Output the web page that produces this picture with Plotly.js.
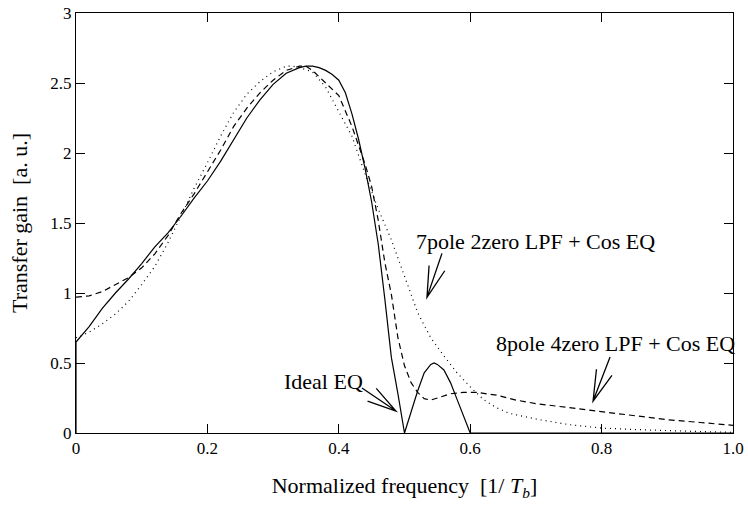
<!DOCTYPE html>
<html>
<head>
<meta charset="utf-8">
<script src="https://cdn.plot.ly/plotly-3.0.1.min.js"></script>
<style>
  html, body { margin: 0; padding: 0; background: #fff; }
  #chart { width: 748px; height: 506px; }
</style>
</head>
<body>
<div id="chart"></div>
<script>
// Ideal equalizer response
const idealX = [0, 0, 0.02, 0.04, 0.06, 0.08, 0.10, 0.12, 0.14, 0.16, 0.18, 0.20, 0.22, 0.24, 0.26, 0.28, 0.30, 0.32, 0.34, 0.35, 0.36, 0.37, 0.38, 0.39, 0.40, 0.41, 0.42, 0.43, 0.44, 0.45, 0.46, 0.47, 0.48, 0.49, 0.50, 0.51, 0.52, 0.53, 0.54, 0.545, 0.55, 0.56, 0.57, 0.58, 0.59, 0.60, 0.80, 1.0];
const idealY = [0, 0.65, 0.76, 0.89, 1.00, 1.10, 1.21, 1.33, 1.43, 1.55, 1.68, 1.80, 1.94, 2.10, 2.25, 2.38, 2.49, 2.57, 2.61, 2.62, 2.62, 2.61, 2.59, 2.56, 2.52, 2.43, 2.28, 2.10, 1.89, 1.65, 1.35, 0.96, 0.54, 0.28, 0.0, 0.15, 0.30, 0.43, 0.49, 0.50, 0.49, 0.45, 0.36, 0.24, 0.12, 0.0, 0.0, 0.0];

// 8pole 4zero LPF + Cos EQ
const lpf8X = [0, 0.02, 0.04, 0.06, 0.08, 0.10, 0.12, 0.14, 0.16, 0.18, 0.20, 0.22, 0.24, 0.26, 0.28, 0.30, 0.32, 0.34, 0.35, 0.36, 0.38, 0.40, 0.42, 0.44, 0.45, 0.46, 0.47, 0.48, 0.49, 0.50, 0.51, 0.52, 0.53, 0.54, 0.55, 0.57, 0.59, 0.61, 0.64, 0.67, 0.70, 0.75, 0.80, 0.85, 0.90, 0.95, 1.0];
const lpf8Y = [0.97, 0.98, 1.01, 1.06, 1.11, 1.18, 1.28, 1.41, 1.57, 1.71, 1.86, 2.02, 2.19, 2.32, 2.43, 2.52, 2.59, 2.62, 2.62, 2.59, 2.50, 2.41, 2.19, 1.92, 1.76, 1.52, 1.22, 0.99, 0.68, 0.48, 0.36, 0.29, 0.245, 0.235, 0.25, 0.28, 0.29, 0.29, 0.27, 0.235, 0.21, 0.18, 0.155, 0.12, 0.095, 0.075, 0.055];

// 7pole 2zero LPF + Cos EQ
const lpf7X = [0, 0.02, 0.04, 0.06, 0.08, 0.10, 0.12, 0.14, 0.16, 0.18, 0.20, 0.22, 0.24, 0.26, 0.28, 0.30, 0.32, 0.33, 0.34, 0.36, 0.38, 0.40, 0.42, 0.44, 0.46, 0.48, 0.50, 0.52, 0.54, 0.56, 0.58, 0.60, 0.62, 0.64, 0.66, 0.70, 0.75, 0.80, 0.85, 0.90, 0.95, 1.0];
const lpf7Y = [0.68, 0.72, 0.78, 0.85, 0.94, 1.06, 1.19, 1.36, 1.55, 1.75, 1.93, 2.12, 2.29, 2.42, 2.51, 2.58, 2.62, 2.62, 2.61, 2.58, 2.47, 2.30, 2.12, 1.85, 1.60, 1.38, 1.12, 0.86, 0.68, 0.55, 0.43, 0.33, 0.24, 0.18, 0.14, 0.10, 0.06, 0.035, 0.025, 0.015, 0.01, 0.005];

const xTickVals = [0, 0.2, 0.4, 0.6, 0.8, 1.0];
const xTickText = ['0', '0.2', '0.4', '0.6', '0.8', '1.0'];
const yTickVals = [0, 0.5, 1, 1.5, 2, 2.5, 3];
const yTickText = ['0', '0.5', '1', '1.5', '2', '2.5', '3'];

const FONT = "'Liberation Serif', 'Times New Roman', serif";

const traces = [
  { x: idealX, y: idealY, mode: 'lines', line: { color: '#000', width: 1.2 }, hoverinfo: 'skip' },
  { x: lpf8X, y: lpf8Y, mode: 'lines', line: { color: '#000', width: 1.2, dash: '6px,4px' }, hoverinfo: 'skip' },
  { x: lpf7X, y: lpf7Y, mode: 'lines', line: { color: '#000', width: 1.2, dash: '1px,4px' }, hoverinfo: 'skip' }
];

// Label arrows: tip in data coordinates, tail offset in pixels (y up)
function arrowShape(tipX, tipY, dx, dy, headLen, headDeg) {
  const len = Math.hypot(dx, dy);
  const ux = dx / len, uy = dy / len;
  const a = headDeg * Math.PI / 180;
  const h1x = (ux * Math.cos(a) - uy * Math.sin(a)) * headLen;
  const h1y = (ux * Math.sin(a) + uy * Math.cos(a)) * headLen;
  const h2x = (ux * Math.cos(-a) - uy * Math.sin(-a)) * headLen;
  const h2y = (ux * Math.sin(-a) + uy * Math.cos(-a)) * headLen;
  return {
    type: 'path', xref: 'x', yref: 'y',
    xsizemode: 'pixel', ysizemode: 'pixel', xanchor: tipX, yanchor: tipY,
    path: `M${dx},${dy}L0,0M${h1x.toFixed(1)},${h1y.toFixed(1)}L0,0L${h2x.toFixed(1)},${h2y.toFixed(1)}`,
    line: { color: '#000', width: 1.3 }
  };
}

const shapes = [
  arrowShape(0.487, 0.157, -34, 23, 30, 15),
  arrowShape(0.5342, 0.969, 15, 44, 32, 15),
  arrowShape(0.787, 0.228, 17, 44, 32, 15)
];

const annFont = { family: FONT, size: 22, color: '#000' };
const annotations = [
  { text: 'Ideal EQ', x: 0.3135, y: 0.37, xref: 'x', yref: 'y', xanchor: 'left', yanchor: 'middle', showarrow: false, font: annFont },
  { text: '7pole 2zero LPF + Cos EQ', x: 0.5145, y: 1.37, xref: 'x', yref: 'y', xanchor: 'left', yanchor: 'middle', showarrow: false, font: annFont },
  { text: '8pole 4zero LPF + Cos EQ', x: 0.636, y: 0.64, xref: 'x', yref: 'y', xanchor: 'left', yanchor: 'middle', showarrow: false, font: annFont }
];

const axisCommon = {
  showline: true, linecolor: '#000', linewidth: 1,
  mirror: 'ticks', ticks: 'inside', ticklen: 9, tickwidth: 1, tickcolor: '#000',
  showgrid: false, zeroline: false,
  tickfont: { family: FONT, size: 17, color: '#000' }
};

const layout = {
  width: 748, height: 506,
  margin: { l: 76, r: 15, t: 13, b: 73 },
  paper_bgcolor: '#fff', plot_bgcolor: '#fff',
  showlegend: false,
  font: { family: FONT, color: '#000' },
  xaxis: Object.assign({}, axisCommon, {
    range: [0, 1], tickmode: 'array', tickvals: xTickVals, ticktext: xTickText,
    title: { text: 'Normalized frequency  [1/ <i>T</i><sub><i>b</i></sub>]', font: { family: FONT, size: 22, color: '#000' }, standoff: 20 }
  }),
  yaxis: Object.assign({}, axisCommon, {
    range: [0, 3], tickmode: 'array', tickvals: yTickVals, ticktext: yTickText,
    title: { text: 'Transfer gain  [a. u.]', font: { family: FONT, size: 22, color: '#000' }, standoff: 16 }
  }),
  shapes: shapes,
  annotations: annotations
};

Plotly.newPlot('chart', traces, layout, { staticPlot: true, displayModeBar: false });
</script>
</body>
</html>
